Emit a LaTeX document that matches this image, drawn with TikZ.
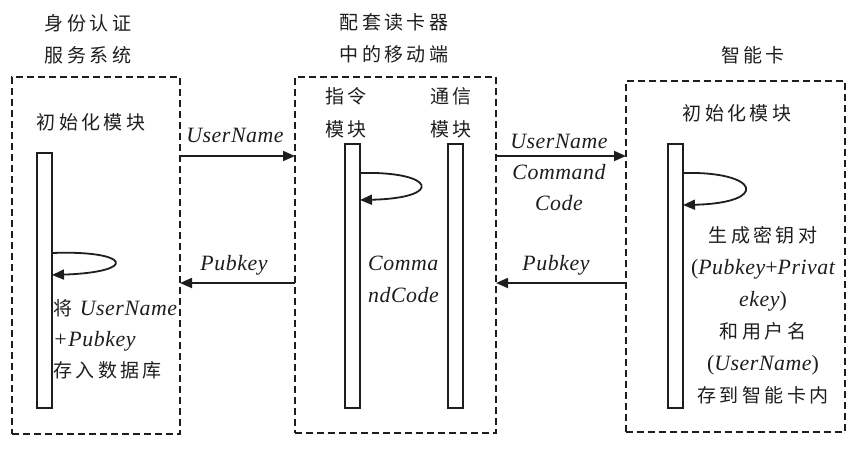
\documentclass[tikz,border=0pt]{standalone}
\usepackage{fontspec}
\setmainfont{Liberation Serif}
\newfontfamily\cjk{Noto Sans CJK SC}[LetterSpace=18]
\newfontfamily\lat{Liberation Serif}[LetterSpace=2.5, Scale=1.15]
\usetikzlibrary{arrows.meta}
\definecolor{ink}{RGB}{30,30,30}
\newcommand{\en}[1]{{\lat\itshape #1}}
\newcommand{\up}[1]{{\lat #1}}
\begin{document}
\begin{tikzpicture}[x=1pt,y=-1pt,
  txt/.style={text=ink, inner sep=0pt, align=center,
    font=\cjk\fontsize{19}{32}\selectfont},
  frame/.style={draw=ink, line width=1.8pt, dash pattern=on 7pt off 4pt,
    inner sep=0pt, outer sep=0pt, anchor=north west},
  bar/.style={draw=ink, line width=1.8pt, fill=white, inner sep=0pt,
    outer sep=0pt, minimum width=15pt, anchor=north west},
  arr/.style={draw=ink, line width=1.8pt, -{Triangle[length=12pt,width=10pt]}},
]
\useasboundingbox[fill=white] (0,0) rectangle (853,451);

% participant frames
\node[frame, minimum width=168pt, minimum height=357pt] (lbox) at (12,77) {};
\node[frame, minimum width=201pt, minimum height=356pt] (mbox) at (295,77) {};
\node[frame, minimum width=219pt, minimum height=351pt] (rbox) at (626,81) {};

% titles
\node[txt] (t1) at (88,39) {身份认证\\服务系统};
\node[txt] (t2) at (394,38) {配套读卡器\\中的移动端};
\node[txt] (t3) at (753,55) {智能卡};

% module captions
\node[txt] (linit) at (91,122) {初始化模块};
\node[txt] (rinit) at (737,113) {初始化模块};
\node[txt, font=\cjk\fontsize{19}{33}\selectfont] (cmdt) at (346,113) {指令\\模块};
\node[txt, font=\cjk\fontsize{19}{33}\selectfont] (comt) at (451,113) {通信\\模块};

% activation bars
\node[bar, minimum height=255pt] (lbar) at (37,153) {};
\node[bar, minimum height=264pt] (cbar) at (345,144) {};
\node[bar, minimum height=264pt] (mbar) at (448,144) {};
\node[bar, minimum height=264pt] (rbar) at (668,144) {};

% message rows
\coordinate (r1) at (0,156);
\coordinate (r2) at (0,283);

\draw[arr] (lbox.east |- r1) -- (mbox.west |- r1);
\draw[arr] (mbox.west |- r2) -- (lbox.east |- r2);
\draw[arr] (mbox.east |- r1) -- (rbox.west |- r1);
\draw[arr] (rbox.west |- r2) -- (mbox.east |- r2);

\node[txt, font=\fontsize{19}{30}\selectfont] (m1) at (235,135) {\en{UserName}};
\node[txt, font=\fontsize{19}{30}\selectfont] (m2) at (234,265) {\en{Pubkey}};
\node[txt, font=\fontsize{19}{31}\selectfont] (m3) at (559,172) {\en{UserName}\\\en{Command}\\\en{Code}};
\node[txt, font=\fontsize{19}{30}\selectfont] (m4) at (556,265) {\en{Pubkey}};

% self calls
\coordinate (l1) at (0,253); \coordinate (l2) at (0,275);
\coordinate (c1) at (0,173); \coordinate (c2) at (0,200);
\coordinate (k1) at (0,173); \coordinate (k2) at (0,205);
\draw[arr] (lbar.east |- l1) .. controls (130,250) and (140,272) .. (lbar.east |- l2);
\draw[arr] (cbar.east |- c1) .. controls (435,171) and (445,198) .. (cbar.east |- c2);
\draw[arr] (rbar.east |- k1) .. controls (760,171) and (770,203) .. (rbar.east |- k2);

% notes beside the bars
\node[txt, align=left, anchor=west, font=\cjk\fontsize{19}{31}\selectfont] (ln) at (53,339)
  {将 \en{UserName}\\\en{\up{+}Pubkey}\\存入数据库};
\node[txt, align=left, anchor=west, font=\fontsize{19}{32}\selectfont] (cn) at (368,279)
  {\en{Comma}\\\en{ndCode}};
\node[txt, font=\cjk\fontsize{19}{32}\selectfont] (rn) at (763,315)
  {生成密钥对\\\up{(}\en{Pubkey}\up{+}\en{Privat}\\\en{ekey}\up{)}\\和用户名\\\up{(}\en{UserName}\up{)}\\存到智能卡内};
\end{tikzpicture}
\end{document}
